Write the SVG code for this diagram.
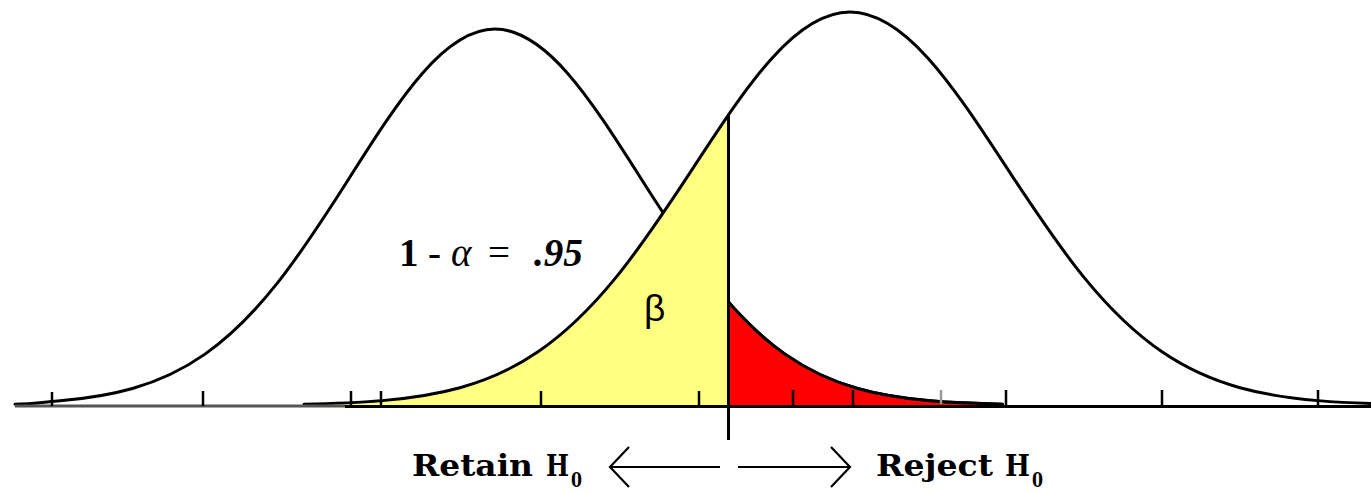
<svg xmlns="http://www.w3.org/2000/svg" width="1371" height="493" viewBox="0 0 1371 493">
<style>
.curve{fill:none;stroke:#000;stroke-width:3;stroke-linejoin:round;stroke-linecap:round}
.tick{stroke:#000;stroke-width:2.5}
.lbl{font-family:"DejaVu Serif","Liberation Serif",serif;font-weight:bold;font-size:29px;fill:#000}
.sub{font-family:"DejaVu Serif","Liberation Serif",serif;font-weight:bold;font-size:21px;fill:#000}
.eq{font-family:"Liberation Serif","DejaVu Serif",serif;font-size:39px;fill:#000}
.arr{fill:none;stroke:#000;stroke-width:2.2}
</style>
<defs>
<path id="cL" d="M15,404.3 C30,404.2 45,402.12 60,400.82 C84.17,398.73 108.33,395.36 132.5,388.48 C156.67,381.6 180.83,371.07 205,354.11 C229.17,337.15 253.33,313.45 277.5,282.93 C301.67,252.41 325.83,214.95 350,176.94 C374.17,138.93 398.33,100.83 422.5,73.18 C446.67,45.53 470.83,29 495,29 C519.17,29 543.33,45.53 567.5,73.18 C591.67,100.83 615.83,138.93 640,176.94 C664.17,214.95 688.33,252.41 712.5,282.93 C736.67,313.45 760.83,337.15 785,354.11 C809.17,371.07 833.33,381.6 857.5,388.48 C881.67,395.36 905.83,398.73 930,400.82 C954.17,402.91 978.33,403.7 1002.5,404.18"/>
<path id="cR" d="M304,404.14 C330,403.64 356,402.81 382,400.63 C408,398.45 434,394.92 460,387.73 C486,380.54 512,369.54 538,351.81 C564,334.08 590,309.31 616,277.41 C642,245.51 668,206.36 694,166.63 C720,126.9 746,87.08 772,58.18 C798,29.28 824,12 850,12 C876,12 902,29.28 928,58.18 C954,87.08 980,126.9 1006,166.63 C1032,206.36 1058,245.51 1084,277.41 C1110,309.31 1136,334.08 1162,351.81 C1188,369.54 1214,380.54 1240,387.73 C1266,394.92 1292,398.45 1318,400.63 C1344,402.81 1370,403.64 1396,404.14"/>
<clipPath id="clipLeft"><rect x="0" y="0" width="728" height="493"/></clipPath>
<clipPath id="clipRight"><rect x="728" y="0" width="643" height="493"/></clipPath>
</defs>

<g id="left-distribution">
<use href="#cL" class="curve"/>
</g>

<g id="beta-region" clip-path="url(#clipLeft)">
<path d="M304,406 L304,404.14 C330,403.64 356,402.81 382,400.63 C408,398.45 434,394.92 460,387.73 C486,380.54 512,369.54 538,351.81 C564,334.08 590,309.31 616,277.41 C642,245.51 668,206.36 694,166.63 C720,126.9 746,87.08 772,58.18 L772,406 Z" fill="#FFFF80"/>
</g>

<g id="alpha-region">
<path clip-path="url(#clipRight)" d="M640,406 L640,176.94 C664.17,214.95 688.33,252.41 712.5,282.93 C736.67,313.45 760.83,337.15 785,354.11 C809.17,371.07 833.33,381.6 857.5,388.48 C881.67,395.36 905.83,398.73 930,400.82 C954.17,402.91 978.33,403.7 1002.5,404.18 L1002.5,406 Z" fill="#FF0000"/>
<use href="#cL" class="curve" clip-path="url(#clipRight)"/>
</g>

<g id="right-distribution">
<use href="#cR" class="curve"/>
</g>

<g id="axis">
<line x1="15" y1="406" x2="345" y2="406" stroke="#555" stroke-width="3"/>
<line x1="345" y1="406.5" x2="1371" y2="406.5" stroke="#000" stroke-width="3"/>
<line class="tick" x1="52" y1="392" x2="52" y2="406" stroke="#444"/>
<line class="tick" x1="203" y1="391" x2="203" y2="406"/>
<line class="tick" x1="351" y1="391" x2="351" y2="406"/>
<line class="tick" x1="381" y1="391" x2="381" y2="406"/>
<line class="tick" x1="541" y1="391" x2="541" y2="406"/>
<line class="tick" x1="699" y1="391" x2="699" y2="406"/>
<line class="tick" x1="793" y1="390" x2="793" y2="406"/>
<line class="tick" x1="853" y1="390" x2="853" y2="406"/>
<line class="tick" x1="941" y1="390" x2="941" y2="404" style="stroke:#999"/>
<line class="tick" x1="1006" y1="390" x2="1006" y2="406"/>
<line class="tick" x1="1162" y1="390" x2="1162" y2="406"/>
<line class="tick" x1="1318" y1="390" x2="1318" y2="406"/>
</g>

<g id="critical-line">
<line x1="728.5" y1="114" x2="728.5" y2="440" stroke="#000" stroke-width="3"/>
</g>

<g id="labels">
<text class="eq" y="266"><tspan x="399" font-weight="bold">1</tspan><tspan x="428">-</tspan><tspan x="451" font-style="italic">α</tspan><tspan x="488">=</tspan><tspan x="534" font-weight="bold" font-style="italic">.95</tspan></text>
<text x="644" y="321" font-family="'Liberation Sans',Arial,sans-serif" font-size="37" fill="#000">β</text>
<text class="lbl" x="412" y="476" textLength="121" lengthAdjust="spacingAndGlyphs">Retain</text>
<text class="lbl" x="546" y="476" textLength="23" lengthAdjust="spacingAndGlyphs">H</text>
<text class="sub" x="571" y="487" textLength="11" lengthAdjust="spacingAndGlyphs">0</text>
<text class="lbl" x="876" y="476" textLength="117" lengthAdjust="spacingAndGlyphs">Reject</text>
<text class="lbl" x="1005" y="476" textLength="25" lengthAdjust="spacingAndGlyphs">H</text>
<text class="sub" x="1032" y="487" textLength="11" lengthAdjust="spacingAndGlyphs">0</text>
</g>

<g id="connectors">
<line class="arr" x1="611" y1="467" x2="720" y2="467"/>
<polyline class="arr" points="629,447 610,467 629,487" stroke-width="1.8"/>
<line class="arr" x1="738" y1="467" x2="849" y2="467"/>
<polyline class="arr" points="831,447 850,467 831,487" stroke-width="1.8"/>
</g>
</svg>
